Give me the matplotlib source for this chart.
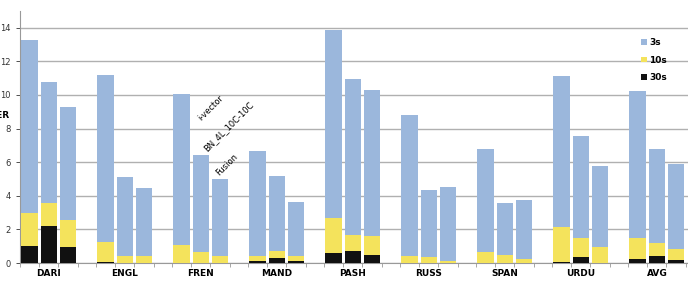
import numpy as np
import matplotlib.pyplot as plt

# EER values per language, three systems (i-vector, BN_4L_10C-10C, Fusion)
langs = ['DARI', 'ENGL', 'FREN', 'MAND', 'PASH', 'RUSS', 'SPAN', 'URDU', 'AVG']
eer_3s = [[13.3, 10.75, 9.3], [11.2, 5.1, 4.47], [10.03, 6.43, 5.0],
          [6.67, 5.2, 3.63], [13.85, 10.96, 10.28], [8.79, 4.37, 4.5],
          [6.77, 3.57, 3.73], [11.1, 7.58, 5.75], [10.22, 6.77, 5.87]]
eer_10s = [[2.98, 3.57, 2.58], [1.25, 0.43, 0.4], [1.09, 0.65, 0.4],
           [0.43, 0.69, 0.41], [2.68, 1.69, 1.58], [0.43, 0.35, 0.1],
           [0.67, 0.49, 0.24], [2.14, 1.49, 0.93], [1.49, 1.19, 0.83]]
eer_30s = [[0.99, 2.22, 0.93], [0.05, 0.03, 0.03], [0.02, 0.02, 0.02],
           [0.1, 0.3, 0.1], [0.6, 0.69, 0.49], [0.0, 0.0, 0.0],
           [0.0, 0.0, 0.0], [0.05, 0.33, 0.02], [0.26, 0.43, 0.2]]

c3 = '#9bb7dc'
c10 = '#f4e35c'
c30 = '#111111'

fig = plt.figure(figsize=(6.88, 2.81), dpi=100)
ax = fig.add_axes([0.029, 0.064, 0.971, 0.897])

x = np.arange(len(langs))
offs = [-0.254, 0.0, 0.254]
w = 0.217
for k in range(3):
    xs = x + offs[k]
    ax.bar(xs, [v[k] for v in eer_3s], w, color=c3, zorder=2, label='3s' if k == 0 else None)
    ax.bar(xs, [v[k] for v in eer_10s], w, color=c10, zorder=3, label='10s' if k == 0 else None)
    ax.bar(xs, [v[k] for v in eer_30s], w, color=c30, zorder=4, label='30s' if k == 0 else None)

ax.set_xlim(-0.38, 8.41)
ax.set_ylim(0, 15)
ax.set_yticks(range(0, 15, 2))
ax.yaxis.grid(True, color='#b0b0b0', lw=1.0, zorder=0)
ax.tick_params(axis='y', labelsize=6, colors='#333333', length=3, width=0.6)
ax.set_xticks(x)
ax.set_xticklabels(langs, fontsize=6.5, fontweight='bold')
ax.tick_params(axis='x', length=0, pad=4.5)
edges = (x[:, None] + np.array([-0.38, -0.127, 0.127, 0.38])[None, :]).ravel()
ax.set_xticks(edges, minor=True)
ax.tick_params(axis='x', which='minor', length=3, width=0.6, color='#999999')
for s in ['top', 'right']:
    ax.spines[s].set_visible(False)
ax.spines['left'].set_color('#999999')
ax.spines['bottom'].set_color('#999999')

ax.legend(loc='upper left', bbox_to_anchor=(0.918, 0.925), frameon=False,
          handlelength=0.6, handleheight=0.6, handletextpad=0.3,
          labelspacing=0.95, prop={'weight': 'bold', 'size': 6.5})

ax.text(2.13, 9.2, 'i-vector', rotation=45, fontsize=6, ha='center', va='center')
ax.text(2.36, 8.1, 'BN_4L_10C-10C', rotation=45, fontsize=6, ha='center', va='center')
ax.text(2.34, 5.85, 'Fusion', rotation=45, fontsize=6, ha='center', va='center')

fig.text(0.013, 1 - 115 / 281, 'EER', fontsize=6.5, fontweight='bold', ha='right', va='center')

fig.savefig('out.png', dpi=100)
